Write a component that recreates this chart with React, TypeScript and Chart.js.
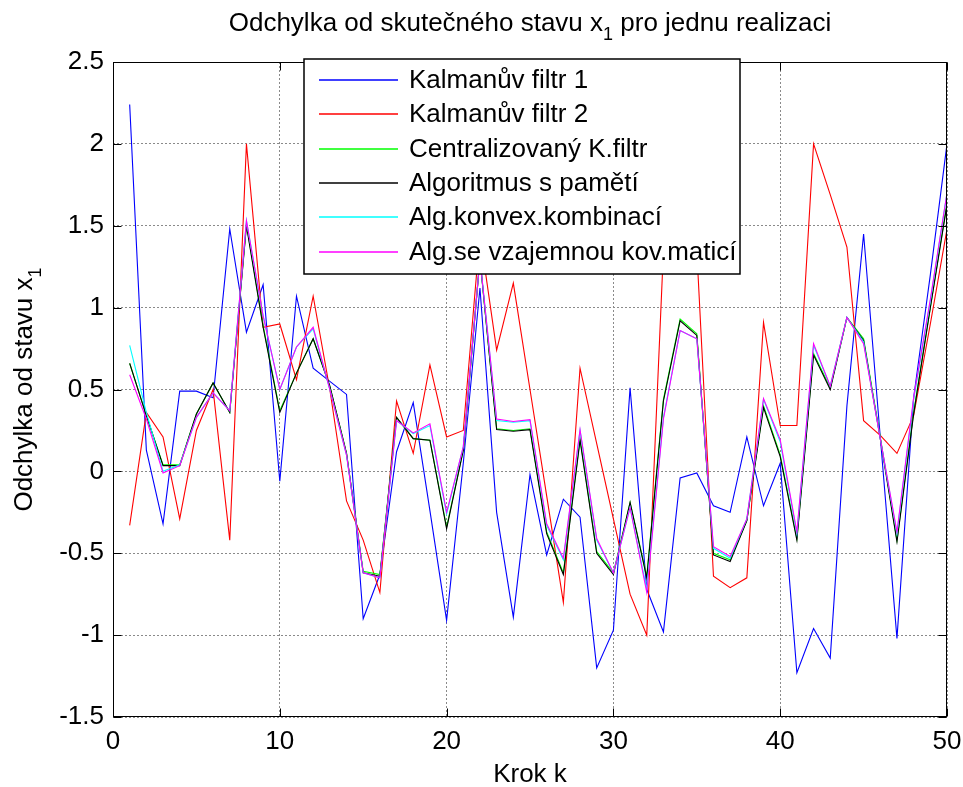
import React, { useEffect, useRef } from "react";
import { Chart, registerables } from "chart.js";

Chart.register(...registerables);

const steps = [
  1, 2, 3, 4, 5, 6, 7, 8, 9, 10, 11, 12, 13, 14, 15, 16, 17, 18, 19, 20, 21, 22, 23, 24, 25,
  26, 27, 28, 29, 30, 31, 32, 33, 34, 35, 36, 37, 38, 39, 40, 41, 42, 43, 44, 45, 46, 47, 48, 49, 50,
];

const kalman1 = [
  2.24, 0.13, -0.32, 0.49, 0.49, 0.45, 1.48, 0.85, 1.14, -0.06, 1.07, 0.63, 0.55, 0.47, -0.9, -0.63, 0.12,
  0.42, -0.24, -0.91, 0.05, 1.12, -0.25, -0.89, -0.02, -0.51, -0.17, -0.28, -1.2, -0.97, 0.51, -0.72, -0.98,
  -0.04, -0.01, -0.21, -0.25, 0.21, -0.21, 0.05, -1.23, -0.96, -1.14, 0.4, 1.45, 0.21, -1.02, 0.45, 1.2, 2.0,
];

const kalman2 = [
  -0.33, 0.36, 0.21, -0.29, 0.25, 0.5, -0.42, 2.0, 0.88, 0.9, 0.56, 1.07, 0.5, -0.18, -0.42, -0.74, 0.43,
  0.11, 0.65, 0.21, 0.25, 1.45, 0.74, 1.15, 0.5, -0.15, -0.8, 0.63, 0.17, -0.29, -0.75, -1.0, 1.35, 1.6,
  1.35, -0.64, -0.71, -0.65, 0.91, 0.28, 0.28, 2.0, 1.69, 1.37, 0.31, 0.22, 0.11, 0.34, 0.9, 1.48,
];

const centralized = [
  0.66, 0.34, 0.04, 0.04, 0.35, 0.54, 0.36, 1.51, 0.89, 0.37, 0.6, 0.81, 0.52, 0.11, -0.61, -0.63, 0.33,
  0.2, 0.19, -0.34, 0.13, 1.3, 0.26, 0.25, 0.26, -0.37, -0.62, 0.2, -0.49, -0.62, -0.19, -0.64, 0.44, 0.93,
  0.84, -0.5, -0.54, -0.3, 0.4, 0.1, -0.41, 0.72, 0.51, 0.94, 0.81, 0.21, -0.42, 0.36, 1.0, 1.64,
];

const withMemory = [
  0.66, 0.34, 0.035, 0.035, 0.35, 0.54, 0.36, 1.5, 0.88, 0.36, 0.6, 0.81, 0.52, 0.11, -0.62, -0.64, 0.33,
  0.2, 0.19, -0.35, 0.13, 1.3, 0.255, 0.245, 0.255, -0.38, -0.63, 0.19, -0.5, -0.63, -0.19, -0.65, 0.43, 0.92,
  0.83, -0.51, -0.55, -0.3, 0.39, 0.09, -0.42, 0.71, 0.5, 0.94, 0.8, 0.2, -0.43, 0.35, 1.0, 1.63,
];

const convexComb = [
  0.77, 0.36, 0.0, 0.04, 0.33, 0.48, 0.37, 1.53, 0.95, 0.5, 0.76, 0.87, 0.5, 0.1, -0.62, -0.65, 0.31,
  0.23, 0.28, -0.26, 0.15, 1.3, 0.31, 0.3, 0.31, -0.33, -0.54, 0.25, -0.42, -0.62, -0.22, -0.72, 0.33, 0.86,
  0.81, -0.47, -0.53, -0.29, 0.44, 0.18, -0.38, 0.77, 0.52, 0.94, 0.79, 0.2, -0.38, 0.44, 1.04, 1.7,
];

const mutualCov = [
  0.59, 0.32, -0.01, 0.035, 0.33, 0.48, 0.37, 1.53, 0.95, 0.5, 0.76, 0.88, 0.5, 0.1, -0.62, -0.65, 0.31,
  0.235, 0.29, -0.25, 0.15, 1.3, 0.32, 0.305, 0.316, -0.32, -0.53, 0.255, -0.41, -0.62, -0.22, -0.74, 0.32, 0.86,
  0.81, -0.46, -0.52, -0.29, 0.445, 0.194, -0.37, 0.78, 0.52, 0.94, 0.78, 0.2, -0.37, 0.45, 1.05, 1.7,
];

const seriesLabels = [
  "Kalmanův filtr 1",
  "Kalmanův filtr 2",
  "Centralizovaný K.filtr",
  "Algoritmus s pamětí",
  "Alg.konvex.kombinací",
  "Alg.se vzajemnou kov.maticí",
];
const seriesColors = ["#0000ff", "#ff0000", "#00ff00", "#000000", "#00ffff", "#ff00ff"];
const seriesValues = [kalman1, kalman2, centralized, withMemory, convexComb, mutualCov];

const xTicks = [0, 10, 20, 30, 40, 50];
const yTicks = [-1.5, -1, -0.5, 0, 0.5, 1, 1.5, 2, 2.5];

const titleMain = "Odchylka od skutečného stavu x";
const titleSub = "1";
const titleRest = " pro jednu realizaci";
const yLabelMain = "Odchylka od stavu x";
const yLabelSub = "1";
const xLabel = "Krok k";

const FONT = '"Liberation Sans", Arial, Helvetica, sans-serif';

function drawSubText(ctx: CanvasRenderingContext2D, parts: [string, boolean][], cx: number, cy: number, size: number) {
  const subSize = Math.round(size * 0.7);
  let total = 0;
  for (const [t, sub] of parts) {
    ctx.font = `${sub ? subSize : size}px ${FONT}`;
    total += ctx.measureText(t).width;
  }
  let x = cx - total / 2;
  ctx.textAlign = "left";
  ctx.textBaseline = "alphabetic";
  for (const [t, sub] of parts) {
    ctx.font = `${sub ? subSize : size}px ${FONT}`;
    ctx.fillText(t, x, cy + (sub ? size * 0.33 : 0));
    x += ctx.measureText(t).width;
  }
}

const framePlugin = {
  id: "matlabFrame",
  beforeDraw(chart: any) {
    const ctx = chart.ctx;
    ctx.save();
    ctx.fillStyle = "#ffffff";
    ctx.fillRect(0, 0, chart.width, chart.height);
    ctx.restore();
  },
  afterDraw(chart: any) {
    const { ctx, chartArea: a, scales } = chart;
    const L = Math.round(a.left) + 0.5;
    const R = Math.round(a.right) - 0.5;
    const T = Math.round(a.top) + 0.5;
    const B = Math.round(a.bottom) - 0.5;
    ctx.save();
    ctx.strokeStyle = "#000";
    ctx.lineWidth = 1;
    ctx.strokeRect(L, T, R - L, B - T);
    const tl = 8;
    ctx.beginPath();
    for (const v of xTicks) {
      const px = Math.round(scales.x.getPixelForValue(v)) + 0.5;
      ctx.moveTo(px, B);
      ctx.lineTo(px, B - tl);
      ctx.moveTo(px, T);
      ctx.lineTo(px, T + tl);
    }
    for (const v of yTicks) {
      const py = Math.round(scales.y.getPixelForValue(v)) + 0.5;
      ctx.moveTo(L, py);
      ctx.lineTo(L + tl, py);
      ctx.moveTo(R, py);
      ctx.lineTo(R - tl, py);
    }
    ctx.stroke();

    // legend
    const lx = 304, ly = 59, lw = 436, lh = 215;
    ctx.fillStyle = "#ffffff";
    ctx.fillRect(lx, ly, lw, lh);
    ctx.lineWidth = 1.5;
    ctx.strokeStyle = "#000";
    ctx.strokeRect(lx, ly, lw, lh);
    ctx.font = `26px ${FONT}`;
    ctx.textAlign = "left";
    ctx.textBaseline = "middle";
    chart.data.datasets.forEach((ds: any, i: number) => {
      const rowY = 80 + i * 34.3;
      ctx.strokeStyle = ds.borderColor;
      ctx.lineWidth = 1.6;
      ctx.beginPath();
      ctx.moveTo(319, Math.round(rowY));
      ctx.lineTo(398, Math.round(rowY));
      ctx.stroke();
      ctx.fillStyle = "#000";
      ctx.fillText(ds.label, 409, rowY + 1);
    });

    // title & axis labels
    ctx.fillStyle = "#000";
    drawSubText(ctx, [[titleMain, false], [titleSub, true], [titleRest, false]], (a.left + a.right) / 2, 31, 26);
    ctx.font = `26px ${FONT}`;
    ctx.textAlign = "center";
    ctx.textBaseline = "alphabetic";
    ctx.fillText(xLabel, (a.left + a.right) / 2, 782);
    ctx.save();
    ctx.translate(32, (a.top + a.bottom) / 2);
    ctx.rotate(-Math.PI / 2);
    drawSubText(ctx, [[yLabelMain, false], [yLabelSub, true]], 0, 0, 26);
    ctx.restore();
    ctx.restore();
  },
};

export default function App() {
  const ref = useRef<HTMLCanvasElement | null>(null);
  useEffect(() => {
    document.body.style.margin = "0";
    if (!ref.current) return;
    const datasets = seriesValues.map((vals, i) => ({
      label: seriesLabels[i],
      data: vals.map((v, j) => ({ x: steps[j], y: v })),
      borderColor: seriesColors[i],
      backgroundColor: seriesColors[i],
      borderWidth: 1.1,
      pointRadius: 0,
      tension: 0,
      fill: false,
      order: seriesValues.length - i,
    }));
    const chart = new Chart(ref.current, {
      type: "line",
      data: { datasets },
      plugins: [framePlugin],
      options: {
        animation: false,
        responsive: false,
        devicePixelRatio: 1,
        layout: { padding: { left: 0, right: 16, top: 62, bottom: 0 } },
        plugins: { legend: { display: false }, title: { display: false }, tooltip: { enabled: false } },
        scales: {
          x: {
            type: "linear",
            min: 0,
            max: 50,
            afterFit: (s: any) => {
              s.height = 70;
              s.paddingLeft = 0;
              s.paddingRight = 0;
            },
            afterBuildTicks: (s: any) => { s.ticks = xTicks.map((v) => ({ value: v })); },
            ticks: { autoSkip: false, maxRotation: 0, padding: 9, color: "#000", font: { size: 26, family: FONT } },
            grid: { color: "#8a8a8a", drawTicks: false, lineWidth: 1 },
            border: { display: false, dash: [2, 2] },
          },
          y: {
            type: "linear",
            min: -1.5,
            max: 2.5,
            afterFit: (s: any) => {
              s.width = 113;
              s.paddingTop = 0;
              s.paddingBottom = 0;
            },
            afterBuildTicks: (s: any) => { s.ticks = yTicks.map((v) => ({ value: v })); },
            ticks: {
              padding: 9,
              color: "#000",
              font: { size: 26, family: FONT },
              callback: (v: any) => String(Number(Number(v).toFixed(1))),
            },
            grid: { color: "#8a8a8a", drawTicks: false, lineWidth: 1 },
            border: { display: false, dash: [2, 2] },
          },
        },
      },
    });
    return () => chart.destroy();
  }, []);
  return (
    <div style={{ width: 963, height: 787 }}>
      <canvas ref={ref} width={963} height={787} style={{ display: "block", width: 963, height: 787 }} />
    </div>
  );
}
